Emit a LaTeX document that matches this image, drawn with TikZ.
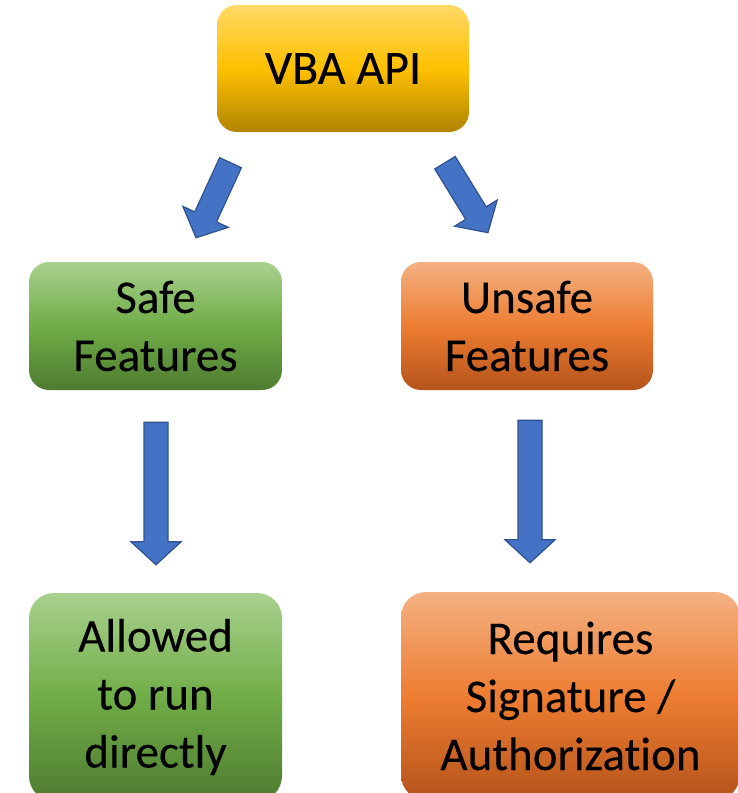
\documentclass[tikz,border=0pt]{standalone}
\usepackage{fontspec}
\setmainfont[Ligatures=NoCommon]{Carlito}
\newfontfamily\boxfont[Ligatures=NoCommon, FakeBold=0.25]{Carlito}
\usetikzlibrary{calc}

\definecolor{goldTop}{HTML}{FFD966}
\definecolor{goldMid}{HTML}{FFC000}
\definecolor{goldBot}{HTML}{B08400}
\definecolor{greenTop}{HTML}{A9D18E}
\definecolor{greenMid}{HTML}{70AD47}
\definecolor{greenBot}{HTML}{4E7B30}
\definecolor{orangeTop}{HTML}{F4B183}
\definecolor{orangeMid}{HTML}{ED7D31}
\definecolor{orangeBot}{HTML}{B5531B}
\definecolor{arrowFill}{HTML}{4472C4}
\definecolor{arrowLine}{HTML}{2F528F}

\tikzset{
  box/.style={rectangle, rounded corners=20pt, inner sep=0pt, align=center,
    font=\boxfont\fontsize{47}{58}\selectfont},
  goldbox/.style={box, top color=goldTop, bottom color=goldBot, middle color=goldMid},
  greenbox/.style={box, top color=greenTop, bottom color=greenBot, middle color=greenMid},
  orangebox/.style={box, top color=orangeTop, bottom color=orangeBot, middle color=orangeMid},
  blockarr/.style={fill=arrowFill, draw=arrowLine, line width=1.2pt, line join=miter},
}

% Block arrow from coordinate #1 (tail centre) to coordinate #2 (tip)
\newcommand\blockarrow[2]{%
  \pgfpointdiff{\pgfpointanchor{#1}{center}}{\pgfpointanchor{#2}{center}}%
  \pgfgetlastxy{\bdx}{\bdy}%
  \pgfmathsetmacro\barang{atan2(\bdy,\bdx)}%
  \pgfmathsetmacro\barlen{veclen(\bdx,\bdy)}%
  \begin{scope}[shift={(#1)}, rotate=\barang]
    \draw[blockarr] (0,-12) -- (\barlen-23,-12) -- (\barlen-23,-25) -- (\barlen,0)
      -- (\barlen-23,25) -- (\barlen-23,12) -- (0,12) -- cycle;
  \end{scope}}

\begin{document}
\begin{tikzpicture}[x=1pt, y=-1pt]
  \useasboundingbox (0,0) rectangle (738,793);
  \clip (0,0) rectangle (738,793);

  % boxes
  \node[goldbox, minimum width=252pt, minimum height=127pt,
        font=\boxfont\fontsize{48}{58}\selectfont] (api) at (343,68.5) {VBA API};
  \node[greenbox, minimum width=253pt, minimum height=128pt] (safe) at (155.5,326) {Safe\\Features};
  \node[orangebox, minimum width=252pt, minimum height=128pt] (unsafe) at (527,326) {Unsafe\\Features};
  \node[greenbox, rounded corners=25pt, minimum width=253pt, minimum height=208pt] (allowed) at (155.5,697) {Allowed\\to run\\directly};
  \node[orangebox, rounded corners=25pt, minimum width=339pt, minimum height=208pt] (requires) at (570.5,696) {Requires\\Signature /\\Authorization};

  % arrow end points
  \coordinate (a1) at ($(api.south)+(-112.5,30.5)$);
  \coordinate (b1) at ($(safe.north)+(40.5,-24)$);
  \coordinate (a2) at ($(api.south)+(102,30.5)$);
  \coordinate (b2) at ($(unsafe.north)+(-39,-29)$);
  \coordinate (a3) at ($(safe.south)+(0.5,32)$);
  \coordinate (b3) at ($(allowed.north)+(0.5,-28)$);
  \coordinate (a4) at ($(unsafe.south)+(3,30)$);
  \coordinate (b4) at ($(requires.north)+(-40.5,-29)$);

  \blockarrow{a1}{b1}
  \blockarrow{a2}{b2}
  \blockarrow{a3}{b3}
  \blockarrow{a4}{b4}
\end{tikzpicture}
\end{document}
